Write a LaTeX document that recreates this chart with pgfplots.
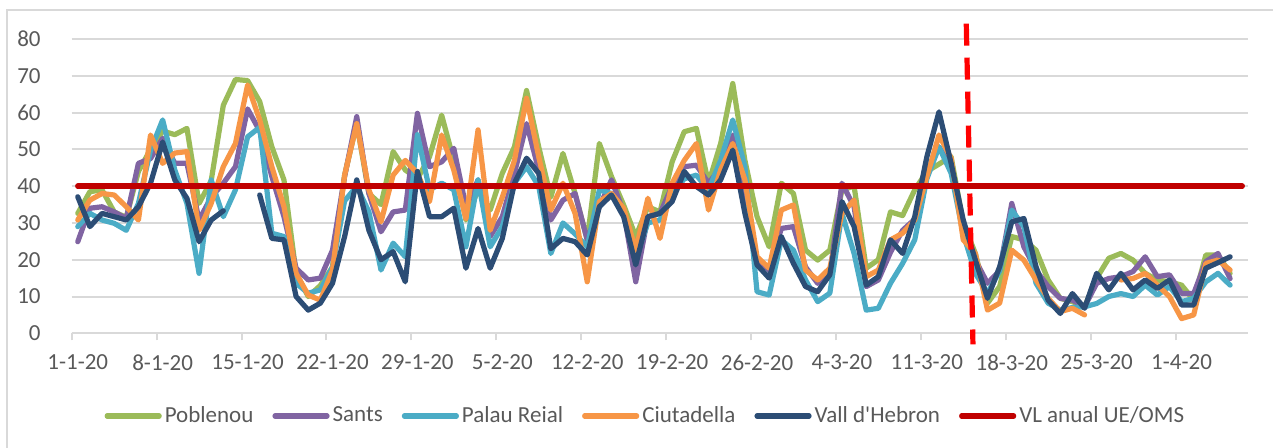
\documentclass[border=0pt]{standalone}
\usepackage{pgfplots}
\usepackage{pgfplotstable}
\pgfplotsset{compat=1.18}
\usepackage{fontspec}
\setmainfont{Carlito}
\definecolor{cP}{HTML}{9BBB59}
\definecolor{cS}{HTML}{8064A2}
\definecolor{cR}{HTML}{4BACC6}
\definecolor{cC}{HTML}{F79646}
\definecolor{cV}{HTML}{2C4D75}
\definecolor{cVL}{HTML}{C00000}
\definecolor{gridc}{HTML}{D9D9D9}
\definecolor{txt}{HTML}{595959}
\pgfplotstableread{
i P S R C V
0 32.6 24.9 29 30.8 37.1
1 38.5 34 32.6 36.2 29
2 39 34.4 30.8 38 32.6
3 33 33 29.9 37.6 31.7
4 31.5 31.2 28 34.4 30.8
5 44 46.2 35.3 30.8 34.4
6 50 47.5 49.8 53.9 40.8
7 55 53 58 46.2 52
8 54 46.2 44.4 49 41.7
9 55.7 46.2 35.3 49.4 36.7
10 35.3 30.8 16.3 28 24.9
11 41.5 37 41.7 35.3 30.8
12 62 40.8 31.7 45.3 33.3
13 69 45.3 39 51.6 nan
14 68.7 61 53.4 67.5 nan
15 63 55 56 58 37.6
16 50.7 42.6 27.2 45.3 25.8
17 41.7 31.7 26.3 34.4 25.4
18 16.3 17.7 13.6 16.3 10
19 10 14.5 10.9 10.4 6.3
20 13 15 11.8 9 8.2
21 18 22.6 18 17.2 13.6
22 43 42.6 36 43 26.3
23 57 58.9 40 57 41.7
24 38 38 33 39 28
25 35 27.6 17.2 30.3 20
26 49.4 33 24.5 43 22.2
27 44.4 33.5 20.8 47 14
28 42 59.8 54 43.5 44
29 48 45.3 39 35.8 31.7
30 59.3 46.6 40.8 53.9 31.7
31 47 50.3 39 44.4 34
32 30.8 34.4 23.5 31.2 17.7
33 39 41.7 41.7 55.3 28.5
34 33.5 26.3 23.5 28 17.7
35 43.5 31.7 29 37 25.8
36 50.7 43.5 40.8 47 40.8
37 66 57 45.3 63.9 47.6
38 50.7 44.4 40 48 43.5
39 37 30.8 21.7 33.5 23
40 48.9 36.2 30 40.8 25.8
41 38 38 27 32.6 24.9
42 25.4 25.4 23.5 14 21.3
43 51.6 34.4 39 35.8 34.4
44 42.6 41.7 38 38 37.6
45 34.9 33 32.6 34 31.7
46 26.3 14 20.4 22.6 18.6
47 34.4 31.7 30 36.7 31.7
48 33 32.6 30.8 25.8 32.6
49 46.6 40 38 40.8 35.8
50 54.8 45.3 42 47 44
51 55.7 45.7 43 51.6 39.9
52 40.8 40.8 39 33.5 37.6
53 51.6 45 47 44.4 41.7
54 67.9 53.9 58 51.6 49.8
55 47 34.4 45.3 41.7 32.6
56 31.7 19.9 11.3 20.8 18.6
57 23.5 17.2 10.4 17.7 15
58 40.8 28.5 25.4 33.5 26.3
59 38 29 22.6 34.9 19
60 22.6 18 14.5 17.2 12.7
61 19.9 13.6 8.6 14.5 11.3
62 22.6 15.9 10.9 17.7 15.9
63 39 40.8 32.6 32.6 35.8
64 40 34.4 21.7 36.2 29
65 17.7 12.7 6.3 15.4 13.1
66 20 14.5 6.8 17.2 15.4
67 33 22 13.6 25.4 25.4
68 32 28 19 27.2 21.7
69 39 31 25.4 30.8 31.7
70 44 43 42 42.6 48
71 46 50.7 50.7 53.9 60.2
72 48 45 43.5 47.6 46.2
73 30 28 27 25.4 30.8
74 21.7 19.9 16.3 21.7 19.9
75 8.2 13.6 10.9 6.3 9.5
76 12.7 17 17 8.2 18.1
77 26.3 35.3 33.5 22.6 30.3
78 25.4 23.5 29 19.9 31.2
79 22.6 17.2 13.6 14.5 18.1
80 14.5 12.7 8.2 9.5 9
81 9.5 9.5 6.3 5.9 5.4
82 8.6 9 7 6.8 10.8
83 7.2 7.2 7.2 5 6.8
84 15 13.6 8.1 nan 16.3
85 20.4 14.9 10 nan 11.8
86 21.7 15.4 10.8 14.5 16.3
87 19.9 16.8 10 14.9 11.8
88 16.3 20.8 13.1 16.3 14.5
89 14.5 15.4 10.4 13.1 12.2
90 14 15.9 12.7 10 14.5
91 13.1 10.8 8.6 4 7.7
92 9 10.8 9.5 5 7.7
93 21.3 19.5 14 19 17.7
94 21.3 21.7 16.3 19.9 19.2
95 16.3 14.9 13.1 17.2 20.8
}\datatable
\begin{document}
\begin{tikzpicture}
\useasboundingbox (0,0) rectangle (636.5pt,-224pt);
\draw[gridc, line width=0.75pt] (3.5pt,-5pt) rectangle (700pt,-300pt);
\begin{axis}[
  at={(35.85pt,-166.65pt)}, anchor=south west,
  width=588.3pt, height=147.15pt, scale only axis,
  xmin=-0.5, xmax=96.5, ymin=0, ymax=80,
  clip=false,
  axis lines*=left,
  y axis line style={draw=none},
  x axis line style={draw=gridc, line width=1pt},
  ytick={0,10,...,80},
  ymajorgrids,
  grid style={draw=gridc, line width=1pt},
  ytick style={draw=none},
  xtick={-0.5,6.5,...,90.5},
  xticklabels={},
  tick align=outside,
  major tick length=3.5pt,
  xtick style={draw=gridc, line width=1pt},
  extra x ticks={0,7,...,91},
  extra x tick labels={1-1-20,8-1-20,15-1-20,22-1-20,29-1-20,5-2-20,12-2-20,19-2-20,26-2-20,4-3-20,11-3-20,18-3-20,25-3-20,1-4-20},
  extra x tick style={major tick length=0pt, xticklabel style={anchor=north, inner sep=0pt, yshift=-10.5pt}},
  tick label style={font=\fontsize{11.5}{14}\selectfont, text=txt},
  yticklabel style={anchor=east, inner sep=0pt, xshift=-11.85pt},
  /pgf/number format/assume math mode=true,
  unbounded coords=jump,
  every axis plot/.append style={line width=2.6pt, line join=round, line cap=round},
  legend columns=6,
  legend style={at={(0.488,-0.281)}, anchor=center, draw=none, fill=none,
    font=\fontsize{11.5}{14}\selectfont, text=txt,
    /tikz/every even column/.append style={column sep=8pt},
    nodes={inner sep=1.5pt}},
  legend image code/.code={\draw[#1, line width=2.6pt, line cap=round] (0pt,0pt) -- (26pt,0pt);},
]
\addplot[cP] table[x=i, y=P] {\datatable}; \addlegendentry{Poblenou}
\addplot[cS] table[x=i, y=S] {\datatable}; \addlegendentry{Sants}
\addplot[cR] table[x=i, y=R] {\datatable}; \addlegendentry{Palau Reial}
\addplot[cC] table[x=i, y=C] {\datatable}; \addlegendentry{Ciutadella}
\addplot[cV] table[x=i, y=V] {\datatable}; \addlegendentry{Vall d\textquotesingle Hebron}
\addplot[cVL, line width=2.7pt] coordinates {(0,40) (96,40)}; \addlegendentry{VL anual UE/OMS}
\addplot[red, line width=2.6pt, line cap=butt, dash pattern=on 11pt off 6pt, forget plot] coordinates {(73.25,84.2) (73.8,-3)};
\end{axis}
\end{tikzpicture}
\end{document}
